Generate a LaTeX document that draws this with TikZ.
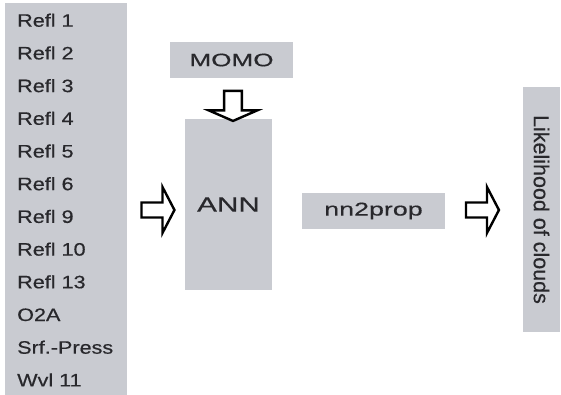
\documentclass[tikz,border=0pt]{standalone}
\usepackage{fontspec}
\setmainfont{Liberation Sans}[FakeBold=0.4]
\newfontfamily\listfont{Liberation Sans}[FakeStretch=1.2,FakeBold=0.5]
\newfontfamily\boxfont{Liberation Sans}[FakeStretch=1.45,FakeBold=0.4]
\usetikzlibrary{shapes.arrows}
\definecolor{panelgray}{RGB}{201,203,209}
\definecolor{textgray}{RGB}{40,40,44}
\tikzset{
  graybox/.style={rectangle, fill=panelgray, inner sep=0pt, text=textgray},
  inlabel/.style={anchor=base west, inner sep=0pt, text=textgray,
    font=\listfont\fontsize{18}{20}\selectfont},
  sidearrow/.style={single arrow, draw=black, fill=white, line width=2.4pt,
    inner xsep=0pt, inner ysep=6.3pt, single arrow head extend=15.5pt,
    single arrow tip angle=125, minimum height=33pt},
  downarrow/.style={sidearrow, rotate=-90, inner ysep=7.7pt,
    single arrow head extend=15.5pt, single arrow tip angle=133, minimum height=30pt}
}
\begin{document}
\begin{tikzpicture}[x=1pt,y=-1pt]
    \useasboundingbox (0,0) rectangle (561,395);

    % Input panel
    \node[graybox, minimum width=122pt, minimum height=392pt] (inputs) at (66,199) {};
    \foreach \lab [count=\i from 0] in {Refl 1,Refl 2,Refl 3,Refl 4,Refl 5,Refl 6,Refl 9,Refl 10,Refl 13,O2A,Srf.-Press,Wvl 11}
        \node[inlabel] (in\i) at (17,26.7+32.7*\i) {\lab};

    % Network boxes
    \node[graybox, minimum width=123pt, minimum height=36pt,
          font=\boxfont\fontsize{18}{20}\selectfont] (momo) at (231.5,60) {MOMO};
    \node[graybox, minimum width=87pt, minimum height=171pt,
          font=\boxfont\fontsize{20.5}{22}\selectfont] (ann) at (228.5,204.5) {ANN};
    \node[graybox, minimum width=143pt, minimum height=36pt,
          font=\boxfont\fontsize{18.5}{20}\selectfont] (nnprop) at (373.5,211) {nn2prop};

    % Output
    \node[graybox, minimum width=245pt, minimum height=37pt, rotate=-90,
          font=\fontsize{21.5}{23}\selectfont] (clouds) at (541.5,209.5) {Likelihood of clouds};

    % Block arrows
    \node[downarrow] (momo2ann) at (233,104) {};
    \node[sidearrow] (in2ann) at (156,210) {};
    \node[sidearrow] (prop2out) at (480.5,210) {};
\end{tikzpicture}
\end{document}
